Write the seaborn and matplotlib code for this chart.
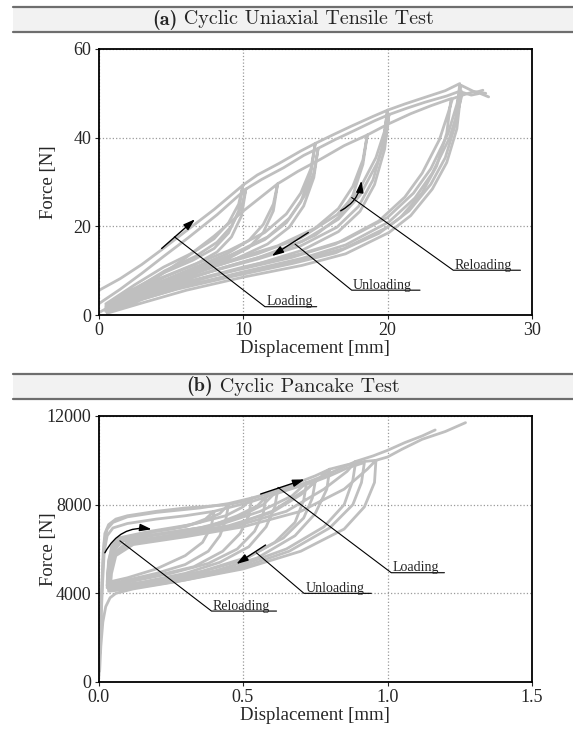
import pandas as pd
import matplotlib
matplotlib.use('Agg')
import matplotlib.pyplot as plt
from matplotlib.patches import Rectangle
from matplotlib.lines import Line2D
import seaborn as sns

############################################################################
# data: (displacement, force) vertices per specimen
############################################################################
# (a) cyclic uniaxial tensile test, displacement [mm], force [N]
tensile_spec1 = [
    (0, 5.5), (1.5, 8.2), (3, 11.4), (4.4, 14.8), (6, 18.8), (8, 23.8), (10, 29.3),
    (9.7, 23.5), (9, 18.5), (8, 15), (6.5, 12.3), (4.5, 9.5), (2.5, 6), (0.5, 2.5),
    (2.5, 6.8), (4.5, 10.8), (6.5, 14), (8, 17.2), (9, 20.8), (9.7, 25), (10, 29.3),
    (11, 31.6), (12.5, 34.2), (14, 37), (15, 38.7),
    (14.7, 32), (14, 25.5), (13, 20.8), (11.5, 17), (9, 13.2), (6, 9.6), (3, 5.8), (0.5, 2),
    (3, 6.6), (6, 10.6), (9, 14.5), (11.5, 18.6), (13, 22.8), (14, 27.5), (14.7, 33), (15, 38.7),
    (16.2, 40.6), (17.5, 42.6), (19, 44.8), (20, 46.2),
    (19.7, 38.5), (19, 30.5), (18, 24.5), (16.5, 19.8), (14, 15.6), (11, 12.6), (8, 10),
    (5, 7), (2, 3.8), (0.5, 1.6),
    (2, 4.4), (5, 7.8), (8, 11), (11, 13.8), (14, 17.4), (16.5, 22.6), (18, 28),
    (19.2, 35.5), (19.8, 41.5), (20, 46.2),
    (21.2, 47.6), (22.5, 49), (24, 50.6), (25, 52.2),
    (24.7, 43), (24, 35.5), (23, 29.5), (21.5, 23.5), (20, 19.8), (17, 15), (14, 12.4),
    (10, 9.6), (6, 6.5), (3, 3.8), (0.5, 1.2),
    (3, 4.4), (6, 7.4), (10, 10.8), (14, 13.8), (17, 16.8), (20, 22), (21.8, 27.5),
    (23, 33), (24.2, 41), (24.8, 47.5), (25.1, 51.8),
    (25.6, 51), (26.1, 50.2), (26.6, 50.7),
]
tensile_spec2 = [
    (0, 2.5), (1.5, 5.8), (3, 9.4), (4.5, 13.2), (6.2, 17.4), (8.2, 22.6), (10.2, 28.4),
    (9.9, 22.4), (9.2, 17.6), (8.2, 14.2), (6.7, 11.4), (4.6, 8.6), (2.6, 5.2), (0.6, 1.8),
    (2.6, 6), (4.6, 10), (6.7, 13.2), (8.2, 16.4), (9.2, 20), (9.9, 24.4), (10.2, 28.4),
    (11.3, 30.6), (12.8, 33.2), (14.2, 36), (15.2, 37.6),
    (14.9, 31), (14.2, 24.6), (13.2, 19.8), (11.7, 16), (9.2, 12.2), (6.2, 8.8), (3.2, 5), (0.6, 1.4),
    (3.2, 5.8), (6.2, 9.8), (9.2, 13.6), (11.7, 17.6), (13.2, 21.8), (14.2, 26.6), (14.9, 32), (15.2, 37.6),
    (16.4, 39.6), (17.7, 41.6), (19.1, 43.8), (20.1, 45.2),
    (19.8, 37.4), (19.1, 29.4), (18.1, 23.4), (16.6, 18.8), (14.1, 14.6), (11.1, 11.6), (8.1, 9),
    (5.1, 6.2), (2.1, 3), (0.6, 0.8),
    (2.1, 3.6), (5.1, 7), (8.1, 10.2), (11.1, 13), (14.1, 16.6), (16.6, 21.6), (18.1, 27),
    (19.3, 34.4), (19.9, 40.4), (20.1, 45.2),
    (21.3, 46.6), (22.6, 48), (24.1, 49.4), (25.1, 50.6),
    (24.8, 42), (24.1, 34.4), (23.1, 28.4), (21.6, 22.4), (20.1, 18.6), (17.1, 13.8), (14.1, 11.2),
    (10.1, 8.6), (6.1, 5.6), (3.1, 2.8), (0.6, 0.4),
    (3.1, 3.6), (6.1, 6.6), (10.1, 9.8), (14.1, 12.8), (17.1, 15.8), (20.1, 21), (21.9, 26.4),
    (23.1, 32), (24.3, 40), (24.9, 46.4), (25.2, 50.2),
    (25.8, 49.6), (26.4, 50), (27, 49.2),
]
tensile_spec3 = [
    (0, 0.5), (2, 4), (4, 8.4), (6, 12.8), (8, 17.8), (10, 23.4), (12.4, 29.6),
    (12.1, 23.5), (11.4, 18.6), (10.4, 15.2), (8.9, 12.6), (6.4, 9.4), (3.5, 5.6), (0.6, 1.5),
    (3.5, 6.4), (6.4, 10.4), (8.9, 13.8), (10.4, 16.8), (11.4, 20.4), (12.1, 25), (12.4, 29.6),
    (13.8, 32.4), (15.4, 35.2), (17, 38.2), (18.6, 40.6),
    (18.3, 34), (17.6, 27), (16.6, 22), (15, 18), (12.4, 14.2), (9, 11), (5.5, 7.6), (2.5, 4), (0.6, 1.2),
    (2.5, 4.8), (5.5, 8.6), (9, 12.2), (12.4, 15.6), (15, 19.6), (16.6, 24), (17.6, 29), (18.3, 35), (18.6, 40.6),
    (20, 43), (21.6, 45.4), (23, 47.2), (24.4, 48.8),
    (24.1, 41), (23.4, 33.6), (22.4, 27.6), (20.9, 22), (19.4, 18.4), (16.4, 14), (13.4, 11.6),
    (9.4, 8.8), (5.4, 5.8), (2.4, 3), (0.5, 0.8),
    (2.4, 3.8), (5.4, 6.8), (9.4, 10), (13.4, 13), (16.4, 16), (19.4, 21.2), (21.2, 26.6),
    (22.4, 32), (23.6, 39.6), (24.2, 45.6), (24.5, 48.8),
    (25.2, 49.6), (26, 50.4), (26.8, 50),
]

# (b) cyclic pancake test, displacement [mm], force [N]
pancake_spec1 = [
    (0, 0), (0.004, 1500), (0.008, 3000), (0.012, 4500), (0.016, 5800), (0.022, 6700),
    (0.035, 7100), (0.06, 7350), (0.1, 7500), (0.2, 7700), (0.3, 7850), (0.4, 7950), (0.45, 8000),
    (0.44, 7300), (0.42, 6600), (0.38, 5900), (0.3, 5300), (0.2, 4900), (0.1, 4600), (0.05, 4450), (0.035, 4400),
    (0.04, 5200), (0.05, 6000), (0.07, 6400), (0.15, 6700), (0.25, 6900), (0.35, 7200), (0.42, 7600), (0.45, 8000),
    (0.5, 8150), (0.55, 8350), (0.62, 8650),
    (0.61, 7900), (0.58, 7000), (0.52, 6100), (0.42, 5400), (0.3, 4900), (0.15, 4500), (0.06, 4350), (0.035, 4300),
    (0.04, 5100), (0.05, 5900), (0.08, 6350), (0.2, 6650), (0.35, 6950), (0.48, 7400), (0.57, 8000), (0.62, 8650),
    (0.68, 8950), (0.75, 9300), (0.8, 9600),
    (0.79, 8700), (0.75, 7600), (0.68, 6600), (0.55, 5600), (0.4, 5000), (0.2, 4500), (0.07, 4250), (0.035, 4200),
    (0.04, 5000), (0.055, 5800), (0.1, 6300), (0.25, 6600), (0.45, 7000), (0.6, 7700), (0.72, 8700), (0.8, 9600),
    (0.86, 9800), (0.92, 9950), (0.96, 10000),
    (0.955, 9000), (0.92, 7900), (0.85, 6900), (0.7, 5900), (0.5, 5100), (0.3, 4600), (0.1, 4200), (0.04, 4100),
    (0.045, 4900), (0.06, 5700), (0.12, 6200), (0.3, 6550), (0.5, 7000), (0.7, 7700), (0.85, 8700),
    (0.93, 9600), (0.96, 10000),
    (1.0, 10150), (1.05, 10500), (1.12, 10950), (1.2, 11300), (1.27, 11700),
]
pancake_spec2 = [
    (0, 0), (0.005, 1800), (0.01, 3600), (0.015, 5200), (0.02, 6300), (0.03, 6900),
    (0.05, 7200), (0.1, 7450), (0.2, 7650), (0.35, 7850), (0.45, 8050), (0.53, 8300),
    (0.52, 7500), (0.49, 6700), (0.43, 5900), (0.33, 5200), (0.2, 4800), (0.1, 4550), (0.05, 4400), (0.03, 4350),
    (0.035, 5300), (0.045, 6100), (0.07, 6500), (0.18, 6800), (0.32, 7100), (0.44, 7500), (0.5, 7900), (0.53, 8300),
    (0.6, 8550), (0.66, 8750), (0.72, 9000),
    (0.71, 8200), (0.68, 7200), (0.61, 6300), (0.5, 5500), (0.35, 4950), (0.18, 4550), (0.07, 4300), (0.03, 4250),
    (0.035, 5100), (0.05, 5950), (0.09, 6400), (0.25, 6750), (0.42, 7100), (0.56, 7700), (0.67, 8400), (0.72, 9000),
    (0.78, 9300), (0.84, 9650), (0.89, 9950),
    (0.88, 9100), (0.85, 8000), (0.78, 7000), (0.65, 6000), (0.48, 5200), (0.28, 4650), (0.1, 4250), (0.035, 4100),
    (0.04, 4950), (0.055, 5750), (0.11, 6250), (0.28, 6600), (0.48, 7050), (0.65, 7700), (0.78, 8700),
    (0.86, 9500), (0.89, 9950),
    (0.95, 10200), (1.0, 10450), (1.06, 10800), (1.12, 11100), (1.165, 11370),
]
pancake_spec3 = [
    (0, 0), (0.005, 1600), (0.01, 3200), (0.015, 4700), (0.02, 5900), (0.03, 6600),
    (0.05, 6950), (0.1, 7150), (0.2, 7350), (0.3, 7500), (0.4, 7700),
    (0.39, 7000), (0.36, 6300), (0.3, 5700), (0.2, 5100), (0.1, 4700), (0.05, 4550), (0.03, 4500),
    (0.035, 5500), (0.05, 6200), (0.1, 6550), (0.2, 6800), (0.3, 7000), (0.37, 7350), (0.4, 7700),
    (0.46, 7900), (0.52, 8100), (0.58, 8350),
    (0.57, 7600), (0.54, 6800), (0.48, 6000), (0.38, 5350), (0.25, 4900), (0.12, 4550), (0.05, 4400), (0.03, 4350),
    (0.035, 5300), (0.05, 6050), (0.09, 6450), (0.22, 6700), (0.38, 7000), (0.48, 7500), (0.55, 7950), (0.58, 8350),
    (0.64, 8600), (0.7, 8850), (0.75, 9050),
    (0.74, 8300), (0.71, 7400), (0.64, 6500), (0.52, 5650), (0.36, 5000), (0.2, 4550), (0.08, 4300), (0.035, 4200),
    (0.04, 5100), (0.055, 5850), (0.1, 6300), (0.26, 6650), (0.45, 7050), (0.6, 7650), (0.7, 8450), (0.75, 9050),
    (0.8, 9300), (0.86, 9650), (0.92, 9900),
    (0.91, 9000), (0.88, 8000), (0.8, 6950), (0.66, 5900), (0.48, 5100), (0.28, 4550), (0.12, 4200),
    (0.06, 4000), (0.04, 3800), (0.025, 3400), (0.015, 2700), (0.008, 1600), (0.004, 500),
]

# annotations: label, arrow tail, arrow head, leader start, leader end, underline end, arrow bend
tensile_notes = [
    ('Loading', (4.37, 15.0), (6.68, 21.6), (5.25, 17.65), (11.52, 1.87), 15.1, 0.0),
    ('Unloading', (14.52, 18.6), (11.99, 13.3), (13.6, 16.0), (17.52, 5.6), 22.25, 0.0),
    ('Reloading', (16.76, 23.5), (18.2, 30.3), (17.52, 26.5), (24.55, 10.1), 29.2, 0.25),
]
pancake_notes = [
    ('Reloading', (0.022, 5830), (0.184, 6890), (0.074, 6370), (0.391, 3200), 0.616, -0.35),
    ('Unloading', (0.578, 6180), (0.477, 5320), (0.546, 5830), (0.711, 4000), 0.944, 0.0),
    ('Loading', (0.561, 8480), (0.713, 9140), (0.621, 8780), (1.013, 4930), 1.197, 0.0),
]


def to_frame(specimens):
    rows = []
    for name, pts in specimens.items():
        for step, (d, f) in enumerate(pts):
            rows.append((name, step, d, f))
    return pd.DataFrame(rows, columns=['specimen', 'step', 'disp', 'force'])


tensile = to_frame({'s1': tensile_spec1, 's2': tensile_spec2, 's3': tensile_spec3})
pancake = to_frame({'s1': pancake_spec1, 's2': pancake_spec2, 's3': pancake_spec3})

############################################################################
# Figure
############################################################################
sns.set_style('white')
plt.rcParams['font.family'] = ['Liberation Serif', 'DejaVu Serif']

W, H = 573, 732
fig = plt.figure(figsize=(W / 100, H / 100), dpi=100)
renderer = fig.canvas.get_renderer()
curve_col = '#bfbfbf'


def header(top_px, bot_px, tag, title):
    y0 = 1 - bot_px / H
    y1 = 1 - top_px / H
    x0 = 13 / W
    fig.patches.append(Rectangle((x0, y0), 1 - x0, y1 - y0, transform=fig.transFigure,
                                 facecolor='#f2f2f2', edgecolor='none'))
    for yy in (y0, y1):
        fig.lines.append(Line2D([x0, 1], [yy, yy], transform=fig.transFigure,
                                color='#6e6e6e', lw=1.6))
    # bold tag + regular title, centred together
    yc = (y0 + y1) / 2
    t1 = fig.text(0, yc, tag, ha='left', va='center', fontsize=14.5, family='cmb10')
    t2 = fig.text(0, yc, ' ' + title, ha='left', va='center', fontsize=14.5, family='cmr10')
    w1 = t1.get_window_extent(renderer).width / W
    w2 = t2.get_window_extent(renderer).width / W
    left = 293 / W - (w1 + w2) / 2
    t1.set_x(left)
    t2.set_x(left + w1)


def panel(ax, df, notes, xlim, ylim, xticks, yticks, xticklabels=None):
    sns.lineplot(data=df, x='disp', y='force', units='specimen', estimator=None,
                 sort=False, color=curve_col, lw=2.0, ax=ax, legend=False)
    ax.set_xlim(xlim)
    ax.set_ylim(ylim)
    ax.set_xticks(xticks)
    ax.set_yticks(yticks)
    if xticklabels is not None:
        ax.set_xticklabels(xticklabels)
    ax.grid(True, linestyle=':', color='#9a9a9a', lw=0.9)
    for s in ax.spines.values():
        s.set_color('black')
        s.set_linewidth(1.3)
    ax.tick_params(direction='out', length=3, width=0.8, labelsize=13, pad=2,
                   left=True, bottom=True)
    ax.set_xlabel('Displacement [mm]', fontsize=13.5, labelpad=1)
    ax.set_ylabel('Force [N]', fontsize=13.5)
    ax.yaxis.set_label_coords(-0.095, 0.5)

    for label, tail, head, lead0, lead1, under_end, rad in notes:
        ax.annotate('', xy=head, xytext=tail,
                    arrowprops=dict(arrowstyle='-|>,head_length=0.7,head_width=0.22',
                                    color='black', lw=1.0, shrinkA=0, shrinkB=0,
                                    connectionstyle='arc3,rad=%s' % rad))
        ax.plot([lead0[0], lead1[0], under_end], [lead0[1], lead1[1], lead1[1]],
                color='black', lw=0.8, clip_on=False)
        ax.annotate(label, xy=lead1, xytext=(1, 1), textcoords='offset points',
                    ha='left', va='baseline', fontsize=10, annotation_clip=False)


header(7, 32, '(a)', 'Cyclic Uniaxial Tensile Test')
header(374, 399, '(b)', 'Cyclic Pancake Test')

ax_a = fig.add_axes([98.5 / W, 1 - 315 / H, 433.5 / W, 266 / H])
panel(ax_a, tensile, tensile_notes, (0, 30), (0, 60), [0, 10, 20, 30], [0, 20, 40, 60])

ax_b = fig.add_axes([98.5 / W, 1 - 682 / H, 433.5 / W, 266 / H])
panel(ax_b, pancake, pancake_notes, (0, 1.5), (0, 12000), [0, 0.5, 1.0, 1.5],
      [0, 4000, 8000, 12000], ['0.0', '0.5', '1.0', '1.5'])

fig.savefig('out.png', dpi=100)
plt.close()
